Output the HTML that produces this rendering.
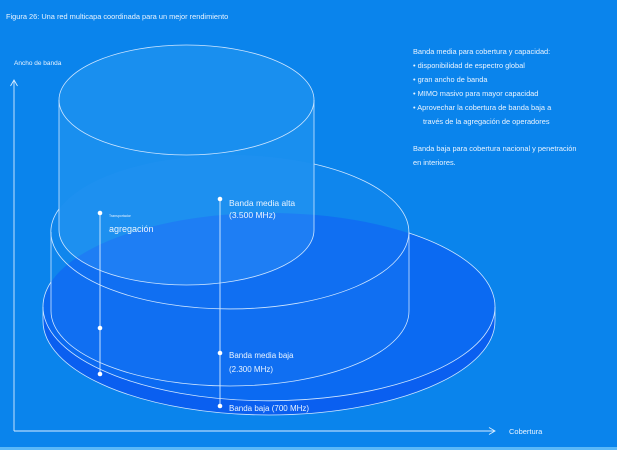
<!DOCTYPE html>
<html><head><meta charset="utf-8"><style>
html,body{margin:0;padding:0;}
body{width:617px;height:450px;overflow:hidden;background:#0a84ec;font-family:"Liberation Sans",sans-serif;}
svg{display:block}
</style></head><body>
<svg width="617" height="450" viewBox="0 0 617 450" xmlns="http://www.w3.org/2000/svg" font-family="Liberation Sans, sans-serif" fill="none">
<rect width="617" height="450" fill="#0a84ec"/>
<rect y="447" width="617" height="3" fill="#5ab8f8"/>
<path d="M43 307 L43 321 A226 94 0 0 0 495 321 L495 307 Z" fill="#0a5ff0"/>
<ellipse cx="269" cy="321" rx="226" ry="94" fill="#0a5ff0"/>
<ellipse cx="269" cy="307" rx="226" ry="94" fill="#0b6af2"/>
<path d="M51 232 A179 77 0 0 1 409 232 L409 311 A179 75 0 0 1 51 311 Z" fill="rgba(60,150,250,0.12)"/>
<path d="M59 100 A127.5 55 0 0 1 314 100 L314 230 A127.5 55 0 0 1 59 230 Z" fill="rgba(80,180,252,0.22)"/>
<g stroke="#cfe6ff" stroke-width="0.8">
<path d="M51 282 A226 94 0 1 0 409 233"/>
<path d="M43 321 A226 94 0 0 0 495 321"/>
<line x1="43" y1="307" x2="43" y2="321"/>
<line x1="495" y1="307" x2="495" y2="321"/>
<path d="M59 209 A179 77 0 1 0 314 164"/>
<line x1="51" y1="232" x2="51" y2="311"/>
<line x1="409" y1="232" x2="409" y2="311"/>
<path d="M51 311 A179 75 0 0 0 409 311"/>
<ellipse cx="186.5" cy="100" rx="127.5" ry="55"/>
<line x1="59" y1="100" x2="59" y2="230"/>
<line x1="314" y1="100" x2="314" y2="230"/>
<path d="M59 230 A127.5 55 0 0 0 314 230"/>
</g>
<g stroke="#d8ecff" stroke-width="0.9">
<line x1="14" y1="80" x2="14" y2="431"/>
<polyline points="10.5,86 14,80 17.5,86"/>
<line x1="14" y1="431" x2="495" y2="431"/>
<polyline points="489,427.5 495,431 489,434.5"/>
<line x1="100" y1="213" x2="100" y2="374"/>
<line x1="220" y1="199" x2="220" y2="406"/>
</g>
<g fill="#fff">
<circle cx="100" cy="213" r="2.3"/><circle cx="100" cy="328" r="2.3"/><circle cx="100" cy="374" r="2.3"/>
<circle cx="220" cy="199" r="2.3"/><circle cx="220" cy="353" r="2.3"/><circle cx="220" cy="406" r="2.3"/>
</g>
<g fill="#eaf4ff">
<text x="6" y="19" font-size="7.4">Figura 26: Una red multicapa coordinada para un mejor rendimiento</text>
<text x="14" y="65" font-size="6.5">Ancho de banda</text>
<text x="509" y="434" font-size="7.5">Cobertura</text>
<text x="109" y="217" font-size="3.5">Transportador</text>
<text x="109" y="232" font-size="9">agregación</text>
<text x="229" y="206" font-size="8.5">Banda media alta</text>
<text x="229" y="218" font-size="8.5">(3.500 MHz)</text>
<text x="229" y="358" font-size="8">Banda media baja</text>
<text x="229" y="372" font-size="8">(2.300 MHz)</text>
<text x="229" y="411" font-size="8">Banda baja (700 MHz)</text>
<g font-size="7.4">
<text x="413" y="54">Banda media para cobertura y capacidad:</text>
<text x="413" y="68">• disponibilidad de espectro global</text>
<text x="413" y="82">• gran ancho de banda</text>
<text x="413" y="96">• MIMO masivo para mayor capacidad</text>
<text x="413" y="110">• Aprovechar la cobertura de banda baja a</text>
<text x="423" y="124">través de la agregación de operadores</text>
<text x="413" y="151">Banda baja para cobertura nacional y penetración</text>
<text x="413" y="165">en interiores.</text>
</g>
</g>
</svg>
</body></html>
